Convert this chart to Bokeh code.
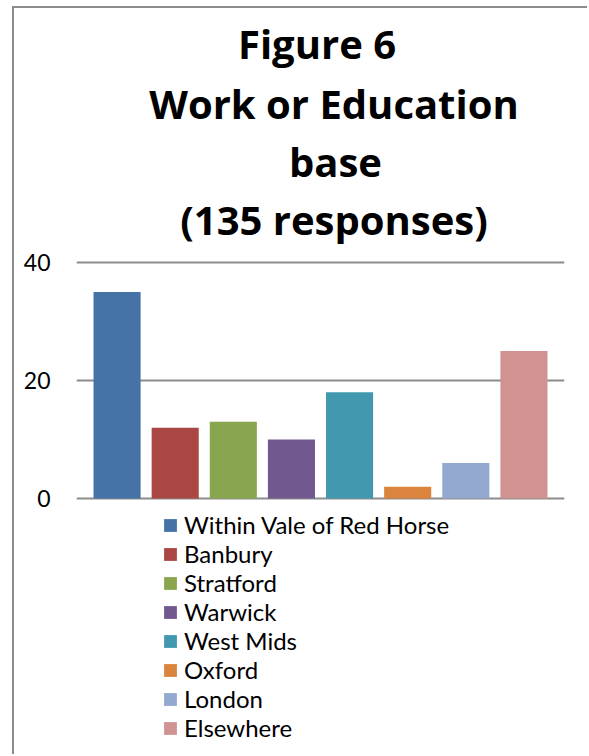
from bokeh.plotting import figure
from bokeh.models import (ColumnDataSource, Range1d, Legend, LegendItem, Label,
                          FixedTicker)
from bokeh.embed import file_html
from bokeh.resources import INLINE

categories = ["Within Vale of Red Horse", "Banbury", "Stratford", "Warwick",
              "West Mids", "Oxford", "London", "Elsewhere"]
values = [35, 12, 13, 10, 18, 2, 6, 25]
colors = ["#4572A7", "#AA4643", "#89A54E", "#71588F",
          "#4198AF", "#DB843D", "#93A9CF", "#D19392"]
y_ticks = [0, 20, 40]
title_lines = ["Figure 6", "Work or Education", "base", "(135 responses)"]

FONT = "Lato"
TFONT = "Open Sans"

src = ColumnDataSource(dict(x=list(range(len(categories))), top=values,
                            color=colors, cat=categories))

# Frame spans the whole canvas height; 0 sits at y=498, 20 units = 118 px.
PX = 118 / 20
p = figure(width=575, height=748, output_backend="svg", toolbar_location=None,
           x_range=Range1d(-0.698, len(categories) - 1 + 0.698),
           y_range=Range1d(-(756 - 498) / PX, (498 - 8) / PX),
           min_border_left=62, min_border_right=25,
           min_border_top=0, min_border_bottom=0)
p.styles = {"border-left": "2px solid #8c8c8c", "border-top": "2px solid #8c8c8c",
            "margin-left": "12px", "margin-top": "6px"}
p.outline_line_color = None
p.background_fill_color = "white"
p.border_fill_color = "white"

r = p.vbar(x="x", top="top", width=0.81, bottom=0, color="color",
           line_color=None, source=src)

p.xaxis.visible = False
p.xgrid.visible = False
p.yaxis.ticker = FixedTicker(ticks=y_ticks)
p.yaxis.axis_line_color = None
p.yaxis.major_tick_line_color = None
p.yaxis.minor_tick_line_color = None
p.yaxis.major_tick_out = 0
p.yaxis.major_tick_in = 0
p.yaxis.major_label_standoff = 26
p.yaxis.major_label_text_font = FONT
p.yaxis.major_label_text_font_size = "23px"
p.yaxis.major_label_text_color = "black"
p.ygrid.grid_line_color = "#8c8c8c"
p.ygrid.grid_line_width = 2

# title lines (screen offsets relative to the plot frame, baseline-anchored)
title_x = [240.5, 257.5, 259, 257.5]
title_y = [713, 653.5, 595, 536.7]
for line, tx, ty in zip(title_lines, title_x, title_y):
    p.add_layout(Label(x=tx, y=ty, x_units="screen", y_units="screen", text=line,
                       text_align="center", text_baseline="alphabetic",
                       text_font=TFONT, text_font_size="40px",
                       text_font_style="bold", text_color="black"))

items = [LegendItem(label=c, renderers=[r], index=i) for i, c in enumerate(categories)]
legend = Legend(items=items, location=(86, 14), orientation="vertical",
                glyph_width=16, glyph_height=16, label_standoff=6, spacing=0,
                padding=0, margin=0, border_line_color=None,
                background_fill_alpha=0, label_text_font=FONT,
                label_text_font_size="24px", label_text_color="black")
p.add_layout(legend)

open("out.html", "w").write(file_html(p, INLINE))
